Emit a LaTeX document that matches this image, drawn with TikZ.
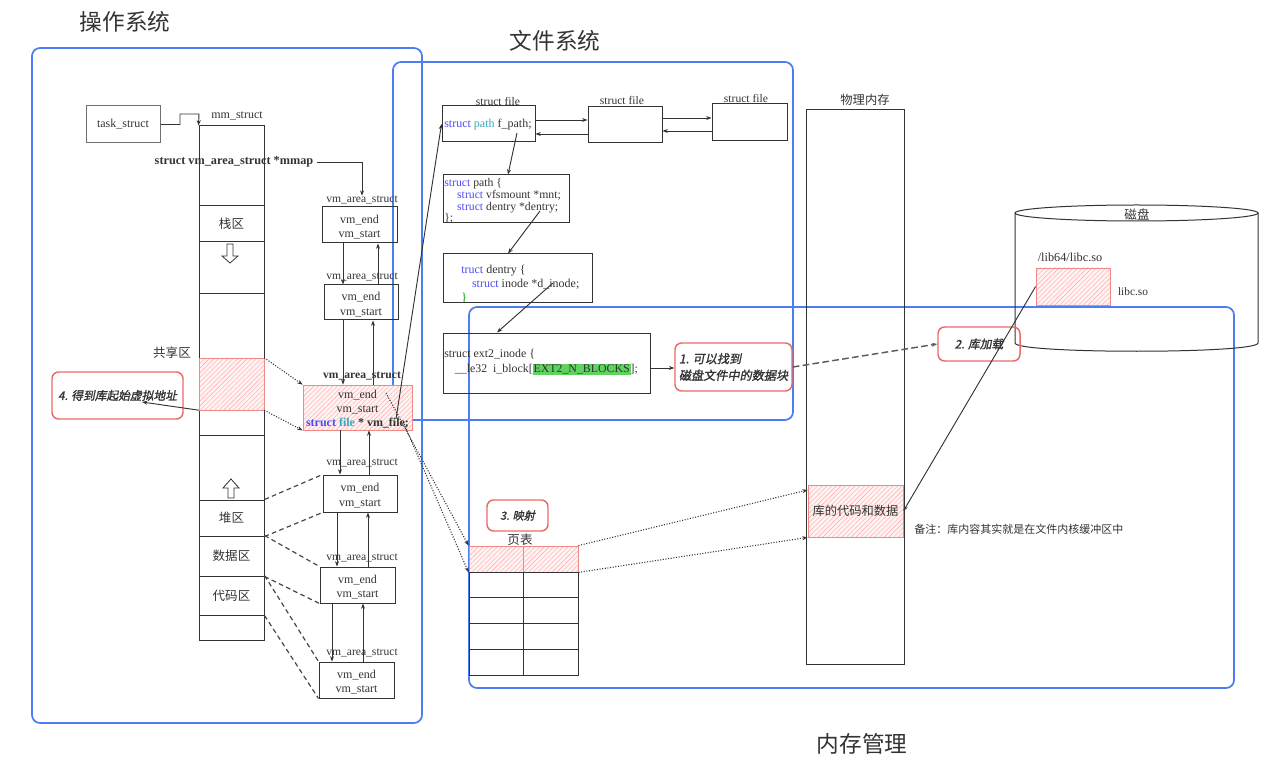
\documentclass[tikz,border=0pt]{standalone}
\usepackage{fontspec}
\setmainfont{Liberation Serif}
\newfontfamily\cjk{Noto Sans CJK SC}
\newfontfamily\cjkbi[FakeSlant=0.2,FakeBold=1.5]{Noto Sans CJK SC}
\usetikzlibrary{arrows.meta,patterns.meta,fit,calc}
\definecolor{frameblue}{HTML}{4C7EF3}
\definecolor{lblred}{HTML}{EA6B66}
\definecolor{kwblue}{HTML}{4B4BF5}
\definecolor{kwteal}{HTML}{35A9B9}
\definecolor{hlgreen}{HTML}{5FD35F}
\definecolor{ink}{HTML}{333333}
\setlength{\fboxsep}{0.6pt}
\begin{document}
\begin{tikzpicture}[x=0.75pt,y=-0.75pt,
  every node/.style={text=ink},
  frame/.style={draw=frameblue,line width=1.3pt,rounded corners=6pt,inner sep=0pt},
  box/.style={draw=ink,line width=0.75pt,inner sep=0pt},
  hatch/.style={draw=lblred!80,line width=0.6pt,inner sep=0pt,preaction={fill=red!5},pattern={Lines[angle=45,distance=2.5pt,line width=0.3pt]},pattern color=red!35},
  note/.style={draw=lblred,line width=1.1pt,rounded corners=5pt,inner sep=0pt},
  arr/.style={-{Stealth[length=4pt,width=3pt]},draw=ink,line width=0.7pt},
  dotarr/.style={arr,dash pattern=on 0.8pt off 1.2pt,line width=0.8pt},
  dline/.style={draw=ink!90,line width=0.9pt,dash pattern=on 3.5pt off 2.5pt},
  lbl/.style={font=\fontsize{8.7}{10}\selectfont,inner sep=0pt},
  vmtxt/.style={font=\fontsize{9}{10.8}\selectfont,align=center,inner sep=0pt,yshift=-1.5pt},
  code/.style={font=\fontsize{8.8}{8.8}\selectfont,anchor=west,inner sep=0pt,align=left},
  zh/.style={font=\cjk\fontsize{9.4}{11}\selectfont,inner sep=0pt},
  title/.style={font=\cjk\fontsize{17}{19}\selectfont},
  bi/.style={font=\cjkbi\fontsize{8.8}{12}\selectfont,align=left,inner sep=0pt}
]
\useasboundingbox (0,0) rectangle (1280,766);

% frames
\node[frame,fit={(32,48)(422,723)}] (osf) {};
\node[frame,fit={(393,62)(793,420)}] (fsf) {};
\node[frame,fit={(469,307)(1234,688)}] (memf) {};
\node[title] (tos) at (125,22) {操作系统};
\node[title] (tfs) at (555,41) {文件系统};
\node[title] (tmem) at (862,744) {内存管理};

% task_struct and mm_struct column
\node[box,draw=ink!70,fit={(86,106)(160,143)}] (task) {};
\node[lbl,font=\fontsize{9}{10}\selectfont] at (task.center) {task\_struct};
\node[box,fit={(199,126)(264,640)}] (mm) {};
\node[lbl,font=\fontsize{9}{10}\selectfont] (mml) at (237,116) {mm\_struct};
\node[box,fit={(199,206)(264,242)}] (stack) {};
\node[zh] at (stack.center) {栈区};
\node[box,fit={(199,294)(264,435)}] (shblk) {};
\node[hatch,fit={(199,358)(264,410)}] (shared) {};
\node[zh] (shl) at (172,353) {共享区};
\node[box,fit={(199,500)(264,536)}] (heap) {};
\node[zh] at (heap.center) {堆区};
\node[box,fit={(199,536)(264,576)}] (data) {};
\node[zh] at (data.center) {数据区};
\node[box,fit={(199,576)(264,615)}] (code) {};
\node[zh] at (code.center) {代码区};
\draw[ink,line width=0.6pt,fill=white] (227,244) -- (233,244) -- (233,256) -- (238,256) -- (230,263) -- (222,256) -- (227,256) -- cycle;
\draw[ink,line width=0.6pt,fill=white] (231,479) -- (239,488) -- (234,488) -- (234,498) -- (228,498) -- (228,488) -- (223,488) -- cycle;

\draw[arr] (task.east) -- (180,0 |- task.east) -- (180,114) -- (199,114) -- (mm.north west);
\node[font=\bfseries\fontsize{9.2}{10}\selectfont,inner sep=0pt] (mmap) at (234,162) {struct vm\_area\_struct *mmap};

% vm_area_struct chain
\node[lbl] (l1) at (362,200) {vm\_area\_struct};
\node[box,fit={(322,207)(397,243)}] (v1) {};
\node[vmtxt] at (v1.center) {vm\_end\\vm\_start};
\node[lbl] (l2) at (362,277) {vm\_area\_struct};
\node[box,fit={(324,285)(398,320)}] (v2) {};
\node[vmtxt] at (v2.center) {vm\_end\\vm\_start};
\node[lbl,font=\bfseries\fontsize{8.7}{10}\selectfont] (l3) at (362,376) {vm\_area\_struct};
\node[hatch,fit={(303,385)(412,430)}] (v3) {};
\node[vmtxt,font=\fontsize{9}{10.6}\selectfont] at (v3.center) {vm\_end\\vm\_start\\\textbf{\textcolor{kwblue}{struct} \textcolor{kwteal}{file} * vm\_file;}};
\node[lbl] (l4) at (362,463) {vm\_area\_struct};
\node[box,fit={(323,475)(397,512)}] (v4) {};
\node[vmtxt] at (v4.center) {vm\_end\\vm\_start};
\node[lbl] (l5) at (362,558) {vm\_area\_struct};
\node[box,fit={(320,567)(395,603)}] (v5) {};
\node[vmtxt] at (v5.center) {vm\_end\\vm\_start};
\node[lbl] (l6) at (362,653) {vm\_area\_struct};
\node[box,fit={(319,662)(394,698)}] (v6) {};
\node[vmtxt] at (v6.center) {vm\_end\\vm\_start};

\draw[arr] (mmap.east) ++(3,0) -| (l1.north);
\draw[arr] (343,0 |- v1.south) -- (343,0 |- v2.north);
\draw[arr] (378,0 |- v2.north) -- (378,0 |- v1.south);
\draw[arr] (343,0 |- v2.south) -- (343,0 |- v3.north);
\draw[arr] (373,0 |- v3.north) -- (373,0 |- v2.south);
\draw[arr] (340,0 |- v3.south) -- (340,0 |- v4.north);
\draw[arr] (369,0 |- v4.north) -- (369,0 |- v3.south);
\draw[arr] (337,0 |- v4.south) -- (337,0 |- v5.north);
\draw[arr] (368,0 |- v5.north) -- (368,0 |- v4.south);
\draw[arr] (332,0 |- v5.south) -- (332,0 |- v6.north);
\draw[arr] (363,0 |- v6.north) -- (363,0 |- v5.south);

\draw[dline] (heap.north east) -- (v4.north west);
\draw[dline] (heap.south east) -- (v4.south west);
\draw[dline] (data.north east) -- (v5.north west);
\draw[dline] (data.south east) -- (v5.south west);
\draw[dline] (code.north east) -- (v6.north west);
\draw[dline] (code.south east) -- (v6.south west);
\draw[dotarr] (shared.north east) -- (v3.north west);
\draw[dotarr] (shared.south east) -- (v3.south west);

% label 4
\node[note,fit={(52,372)(183,419)}] (n4) {};
\node[bi] at (n4.center) {4. 得到库起始虚拟地址};
\coordinate (a4) at (142,402);
\draw[arr] (shared.south west) -- (a4);

% file system
\node[lbl] (fl1) at (498,101) {struct file};
\node[box,fit={(442,106)(535,142)}] (f1) {};
\node[code,font=\fontsize{9}{10}\selectfont] (f1t) at (444,125) {\textcolor{kwblue}{struct} \textcolor{kwteal}{path} f\_path;};
\node[lbl] (fl2) at (622,100) {struct file};
\node[box,fit={(588,107)(662,143)}] (f2) {};
\node[lbl] (fl3) at (746,98) {struct file};
\node[box,fit={(712,104)(787,141)}] (f3) {};
\draw[arr] (f1.east |- 0,120) -- (f2.west |- 0,120);
\draw[arr] (f2.west |- 0,134) -- (f1.east |- 0,134);
\draw[arr] (f2.east |- 0,118) -- (f3.west |- 0,118);
\draw[arr] (f3.west |- 0,131) -- (f2.east |- 0,131);

\coordinate (vf) at (396,419);
\draw[arr] (vf) -- (f1.west);

\node[box,fit={(443,175)(569,223)}] (sp) {};
\node[code] (spt) at (444,201) {\textcolor{kwblue}{struct} path \{\\\hspace*{1.1em}\textcolor{kwblue}{struct} vfsmount *mnt;\\\hspace*{1.1em}\textcolor{kwblue}{struct} dentry *dentry;\\\};};
\coordinate (fp) at (517,133);
\draw[arr] (fp) -- (508,0 |- sp.north);

\node[box,fit={(443,254)(592,303)}] (de) {};
\node[code,font=\fontsize{9}{10.5}\selectfont] (det) at (461,284) {\textcolor{kwblue}{truct} dentry \{\\\hspace*{0.9em}\textcolor{kwblue}{struct} inode *d\_inode;\\\textcolor{green!60!black}{\}}};
\coordinate (sd) at (540,211);
\draw[arr] (sd) -- (508,0 |- de.north);

\node[box,fit={(443,333)(650,393)}] (ex) {};
\node[code,font=\fontsize{8.9}{11}\selectfont] (ext) at (444,362) {struct ext2\_inode \{\\\hspace*{0.9em}\_\_le32\ \ i\_block[\colorbox{hlgreen}{EXT2\_N\_BLOCKS}];};
\coordinate (di) at (553,283);
\draw[arr] (di) -- (497,0 |- ex.north);

\node[note,fit={(675,343)(792,391)}] (n1) {};
\node[bi,font=\cjkbi\fontsize{9.1}{12.5}\selectfont] at (n1.center) {1. 可以找到\\磁盘文件中的数据块};
\draw[arr] (ex.east |- 0,368) -- (n1.west |- 0,368);

% physical memory
\node[zh,font=\cjk\fontsize{9.2}{11}\selectfont] (pml) at (865,100) {物理内存};
\node[box,fit={(806,110)(904,664)}] (pm) {};
\node[hatch,fit={(808,485)(903,537)}] (lib) {};
\node[zh,font=\cjk\fontsize{9.2}{11}\selectfont] at (lib.center) {库的代码和数据};
\node[zh,font=\cjk\fontsize{8.25}{10}\selectfont,anchor=west] (memo) at (914,529) {备注：库内容其实就是在文件内核缓冲区中};

% disk
\draw[ink,line width=0.75pt] (1015,213) -- (1015,343) .. controls (1015,354) and (1258,354) .. (1258,343) -- (1258,213);
\draw[ink,line width=0.75pt] (1136.5,213) ellipse [x radius=121.5, y radius=8];
\node[zh] (disk) at (1137,215) {磁盘};
\node[lbl,font=\fontsize{9.2}{10}\selectfont] (libp) at (1070,257) {/lib64/libc.so};
\node[hatch,fit={(1036,268)(1110,305)}] (libc) {};
\node[lbl,font=\fontsize{8.5}{10}\selectfont] (libcl) at (1133,292) {libc.so};

\node[note,fit={(938,327)(1020,361)}] (n2) {};
\node[bi] at (n2.center) {2. 库加载};
\draw[arr,dash pattern=on 5pt off 2.5pt,line width=1.1pt,draw=ink!80] (n1.east) -- (n2.west);
\draw[arr] (libc.west) -- (lib.east);

% page table
\node[zh] (ptl) at (520,540) {页表};
\node[hatch,fit={(469,546)(523,572)}] (p11) {};
\node[hatch,fit={(523,546)(578,572)}] (p12) {};
\foreach \r/\ya/\yb in {2/572/597,3/597/623,4/623/649,5/649/675} {
  \node[box,fit={(469,\ya)(523,\yb)}] (p\r1) {};
  \node[box,fit={(523,\ya)(578,\yb)}] (p\r2) {};
}
\node[note,fit={(487,500)(548,531)}] (n3) {};
\node[bi,font=\cjkbi\fontsize{8.3}{10}\selectfont] at (n3.center) {3. 映射};

\coordinate (c1) at (386,393);
\coordinate (c2) at (404,424);
\draw[dotarr] (c1) -- (p11.north west);
\draw[dotarr] (c2) -- (p11.south west);
\draw[dotarr] (p12.north east) -- (lib.west |- 0,490);
\draw[dotarr] (p12.south east) -- (lib.south west);
\end{tikzpicture}
\end{document}
